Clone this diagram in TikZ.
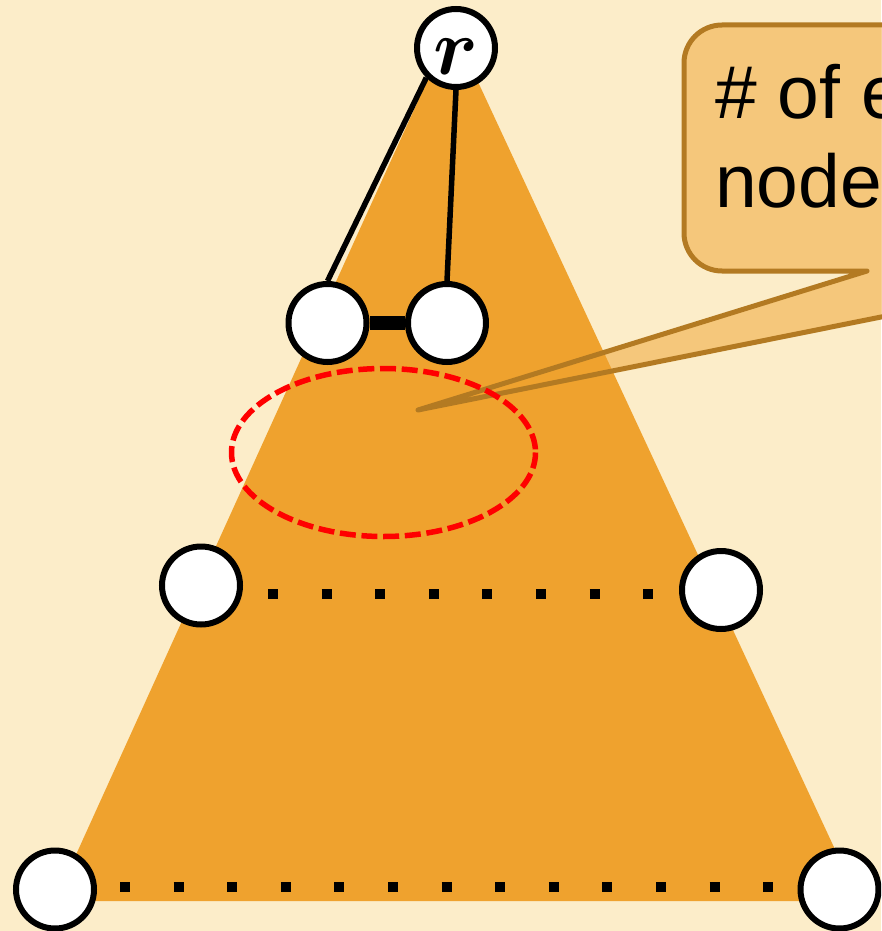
\documentclass[tikz,border=0pt]{standalone}
\usepackage{graphicx}
\usepackage{fontspec}
\newfontfamily\calloutfont{Liberation Sans}
\definecolor{bgc}{HTML}{FCEDC9}
\definecolor{tri}{HTML}{EFA22E}
\definecolor{callbd}{HTML}{B37A22}
\pgfdeclarelayer{bg}
\pgfsetlayers{bg,main}
\begin{document}
\begin{tikzpicture}[x=1pt,y=-1pt,
  vert/.style={circle,draw=black,fill=white,line width=6pt,minimum size=78pt,inner sep=0pt},
  edge/.style={line width=5.5pt},
  thickedge/.style={line width=14pt},
  dotrow/.style={line width=10pt,dash pattern=on 10pt off 43.6pt},
  calltext/.style={anchor=base west,inner sep=0pt,font=\calloutfont\fontsize{75}{89}\selectfont}]
\useasboundingbox (0,0) rectangle (881,931);
\clip (0,0) rectangle (881,931);
\begin{pgfonlayer}{bg}
\fill[bgc] (0,0) rectangle (881,931);
\fill[tri] (452,26) -- (55,901) -- (859,901) -- cycle;
\filldraw[fill=tri,fill opacity=0.5,draw=callbd,line width=5pt,line join=round]
  (418,410) -- (1110,271) -- (1300,271) -- (1300,25) -- (760,25)
  [rounded corners=38pt] -- (684,25) -- (684,271) -- (760,271)
  [sharp corners] -- (867,271) -- cycle;
\draw[red,line width=5.5pt,dash pattern=on 16pt off 5.7pt] (383.5,452.5) ellipse [x radius=152, y radius=84];
\end{pgfonlayer}
\node[calltext] (t1) at (715,118) {\# of e};
\node[calltext] (t2) at (715,207) {node};
\node[vert] (r) at (456,48) {\raisebox{-27pt}[0pt][0pt]{\scalebox{8}{\boldmath$r$}}};
\node[vert] (a) at (327.5,323) {};
\node[vert] (b) at (447,323) {};
\node[vert] (c) at (201,585.5) {};
\node[vert] (d) at (721,590) {};
\node[vert] (e) at (55,889.5) {};
\node[vert] (f) at (839.5,889.5) {};
\coordinate (c1) at (268,593.5);
\coordinate (c2) at (655,593.5);
\coordinate (e1) at (120,887);
\coordinate (e2) at (774,887);
\begin{pgfonlayer}{bg}
\draw[edge] (r.south west) -- (a.north);
\draw[edge] (r.south) -- (b.north);
\draw[thickedge] (a) -- (b);
\draw[dotrow] (c1) -- (c2);
\draw[dotrow] (e1) -- (e2);
\end{pgfonlayer}
\end{tikzpicture}
\end{document}
